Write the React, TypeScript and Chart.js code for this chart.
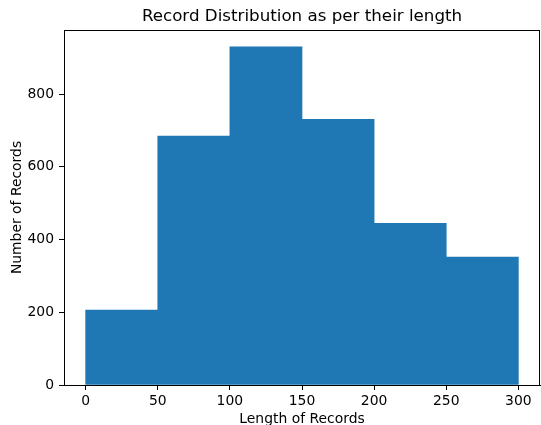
import React, { useEffect, useRef } from 'react';
import Chart from 'chart.js/auto';

const binEdges = [0, 50, 100, 150, 200, 250, 300];
const counts = [206, 685, 930, 731, 445, 352];
const xTicks = [0, 50, 100, 150, 200, 250, 300];
const yTicks = [0, 200, 400, 600, 800];
const titleText = 'Record Distribution as per their length';
const xLabel = 'Length of Records';
const yLabel = 'Number of Records';

const FONT = '"DejaVu Sans", sans-serif';

export default function App() {
  const ref = useRef<HTMLCanvasElement>(null);
  useEffect(() => {
    const data = counts.map((c, i) => ({ x: (binEdges[i] + binEdges[i + 1]) / 2, y: c }));
    const span = binEdges[binEdges.length - 1] - binEdges[0];
    const xMin = binEdges[0] - span * 0.05;
    const xMax = binEdges[binEdges.length - 1] + span * 0.05;
    const yMax = Math.max(...counts) * 1.05;

    const decor = {
      id: 'decor',
      afterDraw(chart: any) {
        const { ctx, chartArea } = chart;
        ctx.save();
        ctx.strokeStyle = '#000';
        ctx.lineWidth = 1;
        ctx.strokeRect(chartArea.left + 0.5, chartArea.top + 0.5, chartArea.right - chartArea.left - 1, chartArea.bottom - chartArea.top);
        ctx.fillStyle = '#000';
        const cx = (chartArea.left + chartArea.right) / 2;
        ctx.textAlign = 'center';
        ctx.textBaseline = 'alphabetic';
        ctx.font = `16.7px ${FONT}`;
        ctx.fillText(titleText, cx, 21);
        ctx.font = `13.9px ${FONT}`;
        ctx.fillText(xLabel, cx, 423);
        ctx.translate(21, (chartArea.top + chartArea.bottom) / 2);
        ctx.rotate(-Math.PI / 2);
        ctx.fillText(yLabel, 0, 0);
        ctx.restore();
      },
    };

    const chart = new Chart(ref.current!, {
      type: 'bar',
      data: {
        datasets: [
          {
            data,
            backgroundColor: '#1f77b4',
            borderWidth: 0,
            barPercentage: 1,
            categoryPercentage: 1,
          } as any,
        ],
      },
      options: {
        animation: false,
        responsive: false,
        layout: { padding: { top: 30, right: 1, left: 0, bottom: 0 } },
        plugins: { legend: { display: false }, title: { display: false }, tooltip: { enabled: false } },
        scales: {
          x: {
            type: 'linear',
            min: xMin,
            max: xMax,
            offset: false,
            afterBuildTicks: (s: any) => {
              s.ticks = xTicks.map((v) => ({ value: v }));
            },
            afterFit: (s: any) => {
              s.height = 40;
            },
            grid: { offset: false, drawOnChartArea: false, drawTicks: true, tickLength: 5, color: '#000' },
            border: { display: true, color: '#000', width: 1 },
            ticks: { color: '#000', font: { family: FONT, size: 13.9 }, padding: 3, maxRotation: 0, autoSkip: false },
          },
          y: {
            type: 'linear',
            min: 0,
            max: yMax,
            afterBuildTicks: (s: any) => {
              s.ticks = yTicks.map((v) => ({ value: v }));
            },
            afterFit: (s: any) => {
              s.width = 64;
            },
            grid: { drawOnChartArea: false, drawTicks: true, tickLength: 5, color: '#000' },
            border: { display: true, color: '#000', width: 1 },
            ticks: { color: '#000', font: { family: FONT, size: 13.9 }, padding: 5, autoSkip: false },
          },
        },
      },
      plugins: [decor],
    });
    return () => chart.destroy();
  }, []);

  return (
    <div style={{ position: 'absolute', left: 0, top: 0, width: 541, height: 425, background: '#fff' }}>
      <canvas ref={ref} width={541} height={425} style={{ width: 541, height: 425, display: 'block' }} />
    </div>
  );
}
